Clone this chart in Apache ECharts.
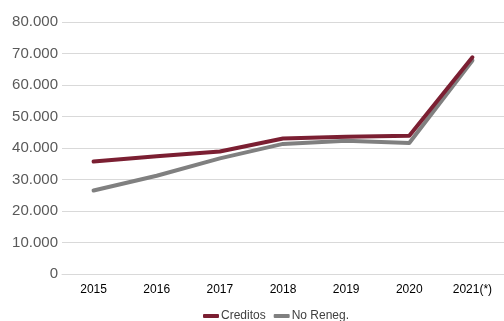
<!DOCTYPE html>
<html><head><meta charset="utf-8">
<script src="https://cdn.jsdelivr.net/npm/echarts@6/dist/echarts.min.js"></script>
<style>html,body{margin:0;padding:0;background:#fff}#c{width:504px;height:321px}</style>
</head><body><div id="c"></div>
<script>
const categories = ['2015','2016','2017','2018','2019','2020','2021(*)'];
const creditos = [35700, 37400, 38900, 43000, 43600, 43900, 68800];
const noReneg = [26500, 31200, 36700, 41300, 42300, 41600, 67800];
const yTicks = [0, 10000, 20000, 30000, 40000, 50000, 60000, 70000, 80000];

const fmt = v => String(v).replace(/\B(?=(\d{3})+(?!\d))/g, '.');
const chart = echarts.init(document.getElementById('c'));
chart.setOption({
  animation: false,
  textStyle: {fontFamily: 'Liberation Sans, Arial, sans-serif'},
  grid: {left: 62, right: 0, top: 22, bottom: 47},
  legend: {
    bottom: -6, left: 198, itemGap: 8, itemWidth: 16, itemHeight: 4,
    textStyle: {color: '#404040', fontSize: 12, padding: [0, 0, 0, -3], fontFamily: 'Liberation Sans, Arial, sans-serif'},
    data: [{name: 'Creditos', icon: 'roundRect'}, {name: 'No Reneg.', icon: 'roundRect'}]
  },
  xAxis: {
    type: 'category', data: categories, boundaryGap: true,
    axisLine: {show: true, lineStyle: {color: '#d9d9d9'}},
    axisTick: {show: false},
    axisLabel: {color: '#000', fontSize: 12, margin: 10, interval: 0}
  },
  yAxis: {
    type: 'value', min: yTicks[0], max: yTicks[yTicks.length - 1], interval: 10000,
    axisLine: {show: false}, axisTick: {show: false},
    splitLine: {lineStyle: {color: '#d9d9d9', width: 1}},
    axisLabel: {color: '#595959', fontSize: 15, margin: 4, formatter: v => fmt(v)}
  },
  series: [
    {name: 'No Reneg.', type: 'line', data: noReneg, symbol: 'none', z: 2,
     lineStyle: {color: '#808080', width: 4, cap: 'round', join: 'round'}, itemStyle: {color: '#808080'}},
    {name: 'Creditos', type: 'line', data: creditos, symbol: 'none', z: 3,
     lineStyle: {color: '#7b1f32', width: 4, cap: 'round', join: 'round'}, itemStyle: {color: '#7b1f32'}}
  ]
});
</script></body></html>
